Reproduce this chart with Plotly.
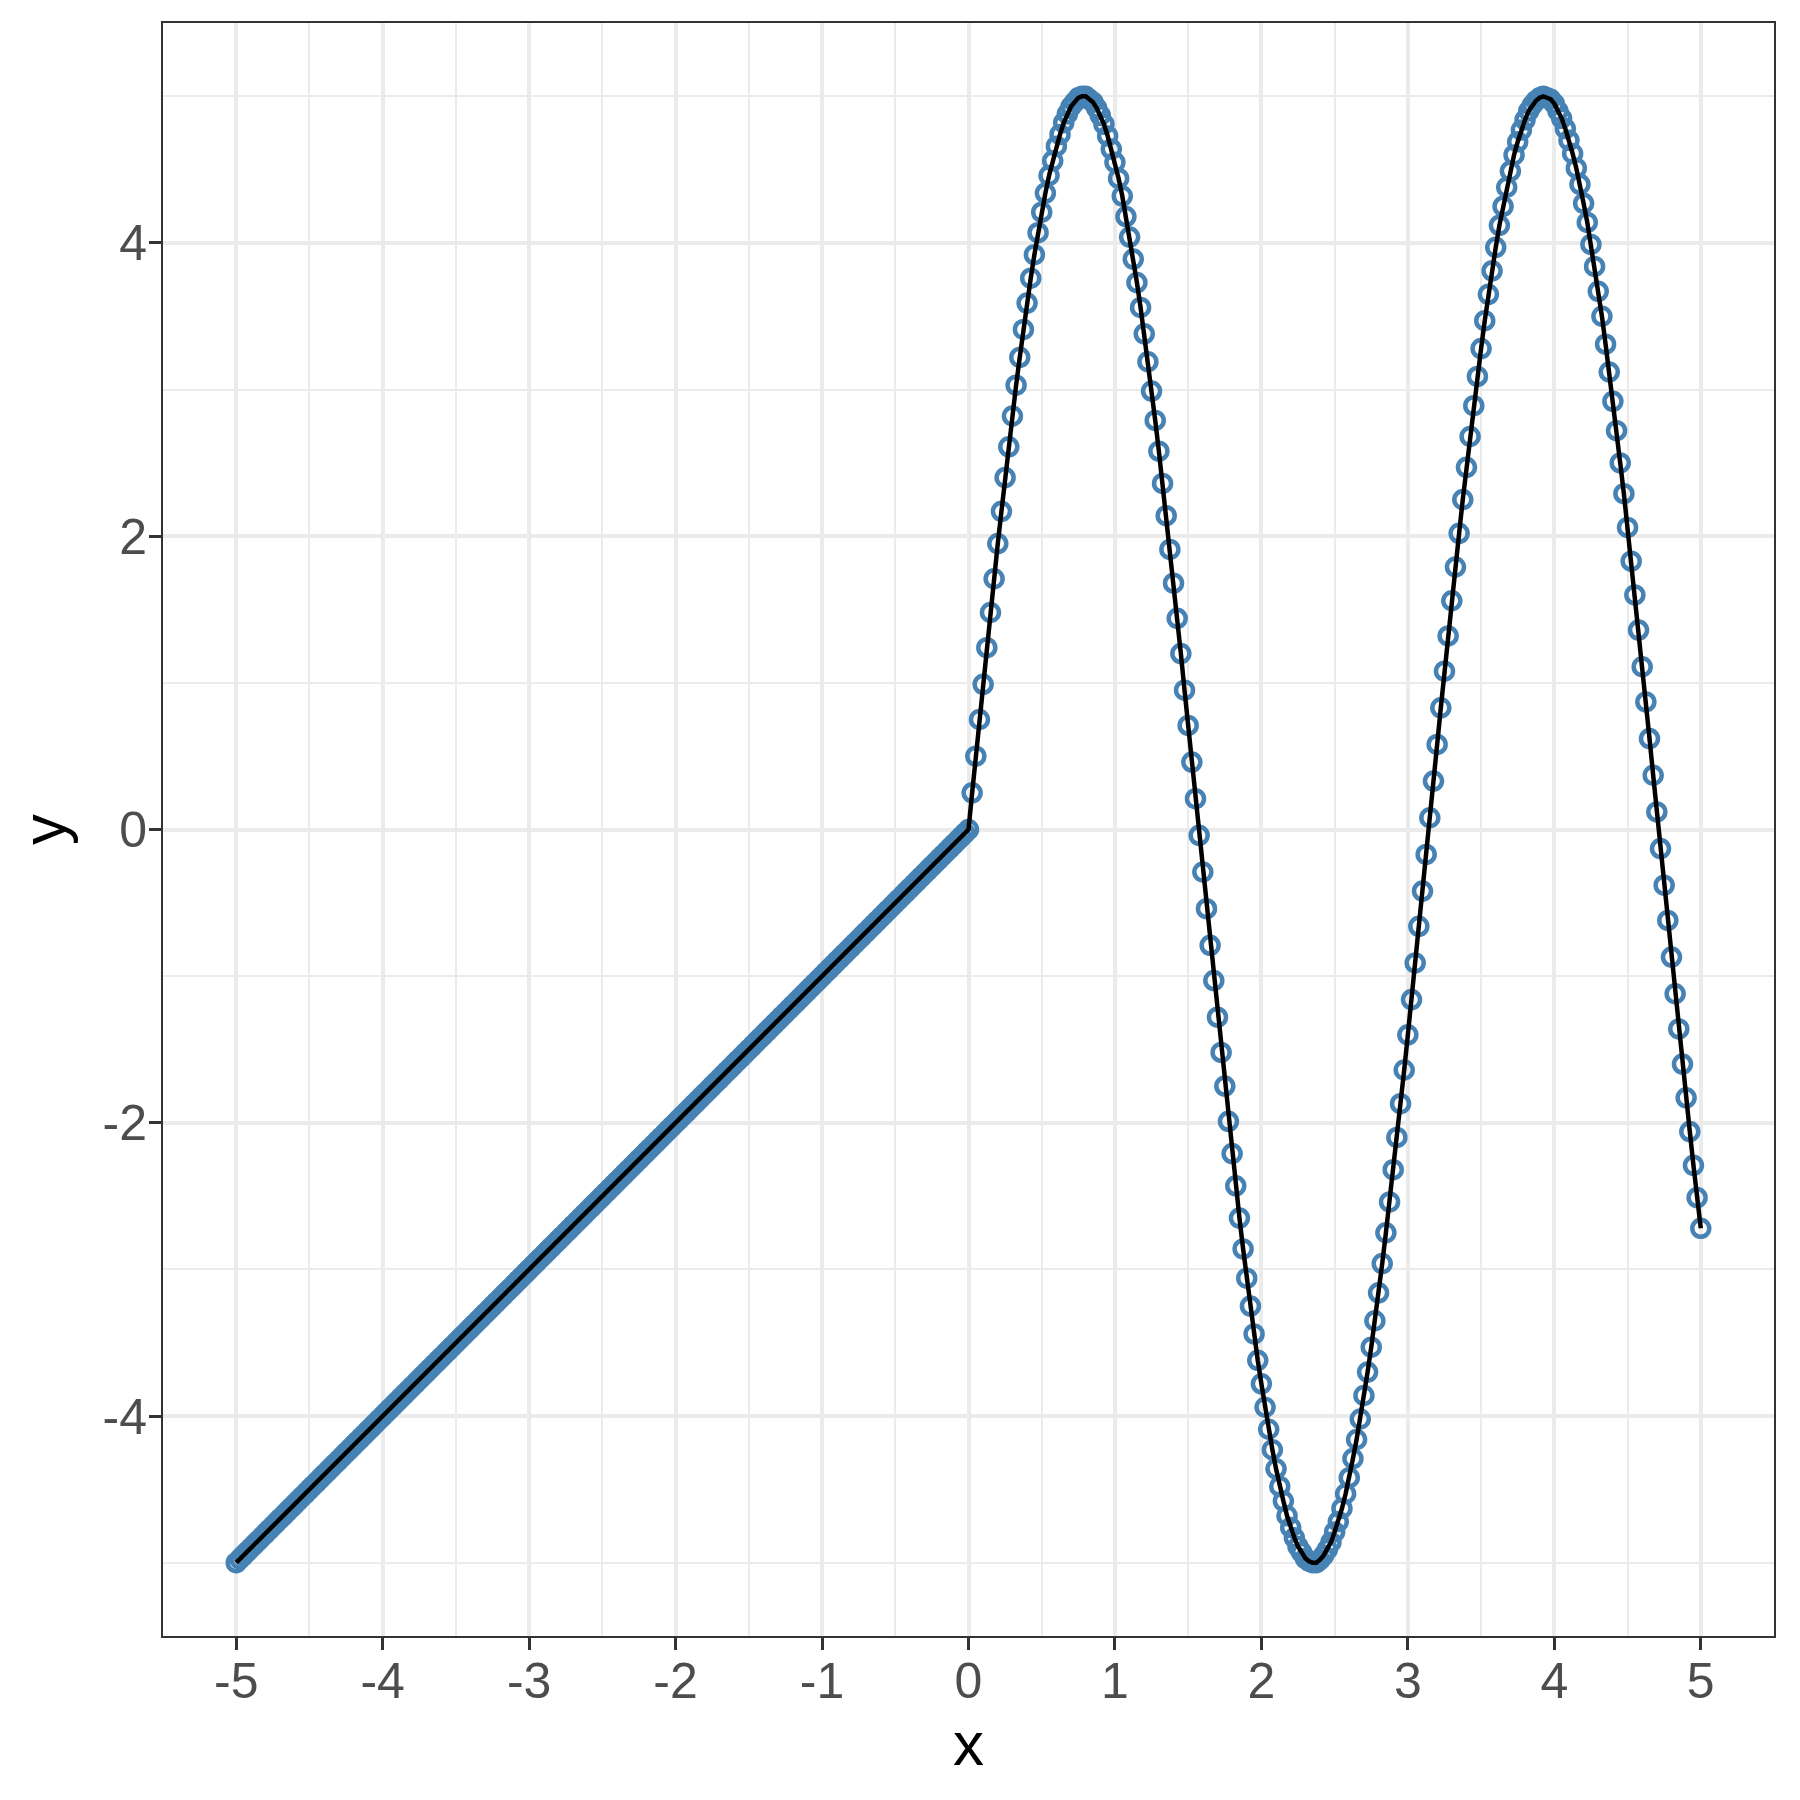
import plotly.graph_objects as go

# values: straight part for x < 0 (dense band of points)
x_left = [-5.000, -4.975, -4.950, -4.925, -4.900, -4.875, -4.850, -4.825,
          -4.800, -4.775, -4.750, -4.725, -4.700, -4.675, -4.650, -4.625,
          -4.600, -4.575, -4.550, -4.525, -4.500, -4.475, -4.450, -4.425,
          -4.400, -4.375, -4.350, -4.325, -4.300, -4.275, -4.250, -4.225,
          -4.200, -4.175, -4.150, -4.125, -4.100, -4.075, -4.050, -4.025,
          -4.000, -3.975, -3.950, -3.925, -3.900, -3.875, -3.850, -3.825,
          -3.800, -3.775, -3.750, -3.725, -3.700, -3.675, -3.650, -3.625,
          -3.600, -3.575, -3.550, -3.525, -3.500, -3.475, -3.450, -3.425,
          -3.400, -3.375, -3.350, -3.325, -3.300, -3.275, -3.250, -3.225,
          -3.200, -3.175, -3.150, -3.125, -3.100, -3.075, -3.050, -3.025,
          -3.000, -2.975, -2.950, -2.925, -2.900, -2.875, -2.850, -2.825,
          -2.800, -2.775, -2.750, -2.725, -2.700, -2.675, -2.650, -2.625,
          -2.600, -2.575, -2.550, -2.525, -2.500, -2.475, -2.450, -2.425,
          -2.400, -2.375, -2.350, -2.325, -2.300, -2.275, -2.250, -2.225,
          -2.200, -2.175, -2.150, -2.125, -2.100, -2.075, -2.050, -2.025,
          -2.000, -1.975, -1.950, -1.925, -1.900, -1.875, -1.850, -1.825,
          -1.800, -1.775, -1.750, -1.725, -1.700, -1.675, -1.650, -1.625,
          -1.600, -1.575, -1.550, -1.525, -1.500, -1.475, -1.450, -1.425,
          -1.400, -1.375, -1.350, -1.325, -1.300, -1.275, -1.250, -1.225,
          -1.200, -1.175, -1.150, -1.125, -1.100, -1.075, -1.050, -1.025,
          -1.000, -0.975, -0.950, -0.925, -0.900, -0.875, -0.850, -0.825,
          -0.800, -0.775, -0.750, -0.725, -0.700, -0.675, -0.650, -0.625,
          -0.600, -0.575, -0.550, -0.525, -0.500, -0.475, -0.450, -0.425,
          -0.400, -0.375, -0.350, -0.325, -0.300, -0.275, -0.250, -0.225,
          -0.200, -0.175, -0.150, -0.125, -0.100, -0.075, -0.050, -0.025]
y_left = [-5.000, -4.975, -4.950, -4.925, -4.900, -4.875, -4.850, -4.825,
          -4.800, -4.775, -4.750, -4.725, -4.700, -4.675, -4.650, -4.625,
          -4.600, -4.575, -4.550, -4.525, -4.500, -4.475, -4.450, -4.425,
          -4.400, -4.375, -4.350, -4.325, -4.300, -4.275, -4.250, -4.225,
          -4.200, -4.175, -4.150, -4.125, -4.100, -4.075, -4.050, -4.025,
          -4.000, -3.975, -3.950, -3.925, -3.900, -3.875, -3.850, -3.825,
          -3.800, -3.775, -3.750, -3.725, -3.700, -3.675, -3.650, -3.625,
          -3.600, -3.575, -3.550, -3.525, -3.500, -3.475, -3.450, -3.425,
          -3.400, -3.375, -3.350, -3.325, -3.300, -3.275, -3.250, -3.225,
          -3.200, -3.175, -3.150, -3.125, -3.100, -3.075, -3.050, -3.025,
          -3.000, -2.975, -2.950, -2.925, -2.900, -2.875, -2.850, -2.825,
          -2.800, -2.775, -2.750, -2.725, -2.700, -2.675, -2.650, -2.625,
          -2.600, -2.575, -2.550, -2.525, -2.500, -2.475, -2.450, -2.425,
          -2.400, -2.375, -2.350, -2.325, -2.300, -2.275, -2.250, -2.225,
          -2.200, -2.175, -2.150, -2.125, -2.100, -2.075, -2.050, -2.025,
          -2.000, -1.975, -1.950, -1.925, -1.900, -1.875, -1.850, -1.825,
          -1.800, -1.775, -1.750, -1.725, -1.700, -1.675, -1.650, -1.625,
          -1.600, -1.575, -1.550, -1.525, -1.500, -1.475, -1.450, -1.425,
          -1.400, -1.375, -1.350, -1.325, -1.300, -1.275, -1.250, -1.225,
          -1.200, -1.175, -1.150, -1.125, -1.100, -1.075, -1.050, -1.025,
          -1.000, -0.975, -0.950, -0.925, -0.900, -0.875, -0.850, -0.825,
          -0.800, -0.775, -0.750, -0.725, -0.700, -0.675, -0.650, -0.625,
          -0.600, -0.575, -0.550, -0.525, -0.500, -0.475, -0.450, -0.425,
          -0.400, -0.375, -0.350, -0.325, -0.300, -0.275, -0.250, -0.225,
          -0.200, -0.175, -0.150, -0.125, -0.100, -0.075, -0.050, -0.025]

# wave part for x >= 0
x_right = [0.000, 0.025, 0.050, 0.075, 0.100, 0.125, 0.150, 0.175,
           0.200, 0.225, 0.250, 0.275, 0.300, 0.325, 0.350, 0.375,
           0.400, 0.425, 0.450, 0.475, 0.500, 0.525, 0.550, 0.575,
           0.600, 0.625, 0.650, 0.675, 0.700, 0.725, 0.750, 0.775,
           0.800, 0.825, 0.850, 0.875, 0.900, 0.925, 0.950, 0.975,
           1.000, 1.025, 1.050, 1.075, 1.100, 1.125, 1.150, 1.175,
           1.200, 1.225, 1.250, 1.275, 1.300, 1.325, 1.350, 1.375,
           1.400, 1.425, 1.450, 1.475, 1.500, 1.525, 1.550, 1.575,
           1.600, 1.625, 1.650, 1.675, 1.700, 1.725, 1.750, 1.775,
           1.800, 1.825, 1.850, 1.875, 1.900, 1.925, 1.950, 1.975,
           2.000, 2.025, 2.050, 2.075, 2.100, 2.125, 2.150, 2.175,
           2.200, 2.225, 2.250, 2.275, 2.300, 2.325, 2.350, 2.375,
           2.400, 2.425, 2.450, 2.475, 2.500, 2.525, 2.550, 2.575,
           2.600, 2.625, 2.650, 2.675, 2.700, 2.725, 2.750, 2.775,
           2.800, 2.825, 2.850, 2.875, 2.900, 2.925, 2.950, 2.975,
           3.000, 3.025, 3.050, 3.075, 3.100, 3.125, 3.150, 3.175,
           3.200, 3.225, 3.250, 3.275, 3.300, 3.325, 3.350, 3.375,
           3.400, 3.425, 3.450, 3.475, 3.500, 3.525, 3.550, 3.575,
           3.600, 3.625, 3.650, 3.675, 3.700, 3.725, 3.750, 3.775,
           3.800, 3.825, 3.850, 3.875, 3.900, 3.925, 3.950, 3.975,
           4.000, 4.025, 4.050, 4.075, 4.100, 4.125, 4.150, 4.175,
           4.200, 4.225, 4.250, 4.275, 4.300, 4.325, 4.350, 4.375,
           4.400, 4.425, 4.450, 4.475, 4.500, 4.525, 4.550, 4.575,
           4.600, 4.625, 4.650, 4.675, 4.700, 4.725, 4.750, 4.775,
           4.800, 4.825, 4.850, 4.875, 4.900, 4.925, 4.950, 4.975,
           5.000]
y_right = [0.00, 0.25, 0.50, 0.75, 0.99, 1.24, 1.48, 1.71,
           1.95, 2.17, 2.40, 2.61, 2.82, 3.03, 3.22, 3.41,
           3.59, 3.76, 3.92, 4.07, 4.21, 4.34, 4.46, 4.56,
           4.66, 4.74, 4.82, 4.88, 4.93, 4.96, 4.99, 5.00,
           5.00, 4.98, 4.96, 4.92, 4.87, 4.81, 4.73, 4.64,
           4.55, 4.44, 4.32, 4.18, 4.04, 3.89, 3.73, 3.56,
           3.38, 3.19, 2.99, 2.79, 2.58, 2.36, 2.14, 1.91,
           1.68, 1.44, 1.20, 0.95, 0.71, 0.46, 0.21, -0.04,
           -0.29, -0.54, -0.79, -1.03, -1.28, -1.52, -1.75, -1.99,
           -2.21, -2.43, -2.65, -2.86, -3.06, -3.25, -3.44, -3.62,
           -3.78, -3.94, -4.09, -4.23, -4.36, -4.48, -4.58, -4.68,
           -4.76, -4.83, -4.89, -4.93, -4.97, -4.99, -5.00, -5.00,
           -4.98, -4.95, -4.91, -4.86, -4.79, -4.72, -4.63, -4.53,
           -4.42, -4.29, -4.16, -4.02, -3.86, -3.70, -3.53, -3.35,
           -3.16, -2.96, -2.75, -2.54, -2.32, -2.10, -1.87, -1.64,
           -1.40, -1.16, -0.91, -0.66, -0.42, -0.17, 0.08, 0.33,
           0.58, 0.83, 1.08, 1.32, 1.56, 1.79, 2.02, 2.25,
           2.47, 2.68, 2.89, 3.09, 3.28, 3.47, 3.65, 3.81,
           3.97, 4.12, 4.25, 4.38, 4.49, 4.60, 4.69, 4.77,
           4.84, 4.90, 4.94, 4.97, 4.99, 5.00, 4.99, 4.98,
           4.95, 4.90, 4.85, 4.78, 4.70, 4.61, 4.51, 4.40,
           4.27, 4.14, 3.99, 3.84, 3.67, 3.50, 3.31, 3.12,
           2.92, 2.72, 2.50, 2.29, 2.06, 1.83, 1.60, 1.36,
           1.11, 0.87, 0.62, 0.37, 0.12, -0.13, -0.38, -0.62,
           -0.87, -1.12, -1.36, -1.60, -1.83, -2.06, -2.29, -2.51,
           -2.72]

x_ticks = [-5, -4, -3, -2, -1, 0, 1, 2, 3, 4, 5]
y_ticks = [-4, -2, 0, 2, 4]

xs = x_left + x_right
ys = y_left + y_right

fig = go.Figure()

fig.add_trace(
    go.Scatter(
        x=xs,
        y=ys,
        mode='markers',
        marker=dict(
            symbol='circle-open',
            size=17,
            color='#4682B4',
            line=dict(width=4.5, color='#4682B4'),
        ),
        showlegend=False,
    )
)

fig.add_trace(
    go.Scatter(
        x=xs,
        y=ys,
        mode='lines',
        line=dict(color='black', width=4.5),
        showlegend=False,
    )
)

axis_style = dict(
    showline=True,
    mirror=True,
    linecolor='#333333',
    linewidth=2,
    ticks='outside',
    ticklen=12,
    tickwidth=3,
    tickcolor='#333333',
    tickfont=dict(size=50, color='#4D4D4D', family='Liberation Sans'),
    showgrid=True,
    gridcolor='#EBEBEB',
    gridwidth=4,
    zeroline=False,
)

fig.update_xaxes(
    range=[-5.5, 5.5],
    tickvals=x_ticks,
    ticktext=[str(v) for v in x_ticks],
    ticklabelstandoff=-12,
    minor=dict(dtick=0.5, tick0=0.5, showgrid=True, gridcolor='#EBEBEB', gridwidth=2, ticks=''),
    title=dict(text='x', font=dict(size=62, color='black', family='Liberation Sans'), standoff=3),
    **axis_style
)
fig.update_yaxes(
    range=[-5.5, 5.5],
    tickvals=y_ticks,
    ticktext=[str(v) for v in y_ticks],
    ticklabelstandoff=-8,
    minor=dict(dtick=1, tick0=1, showgrid=True, gridcolor='#EBEBEB', gridwidth=2, ticks=''),
    title=dict(text='y', font=dict(size=62, color='black', family='Liberation Sans'), standoff=17),
    **axis_style
)

fig.update_layout(
    width=1800,
    height=1800,
    margin=dict(l=155, r=34, t=15, b=172),
    paper_bgcolor='white',
    plot_bgcolor='white',
    font_family='Liberation Sans',
)

fig.write_html("out.html")
